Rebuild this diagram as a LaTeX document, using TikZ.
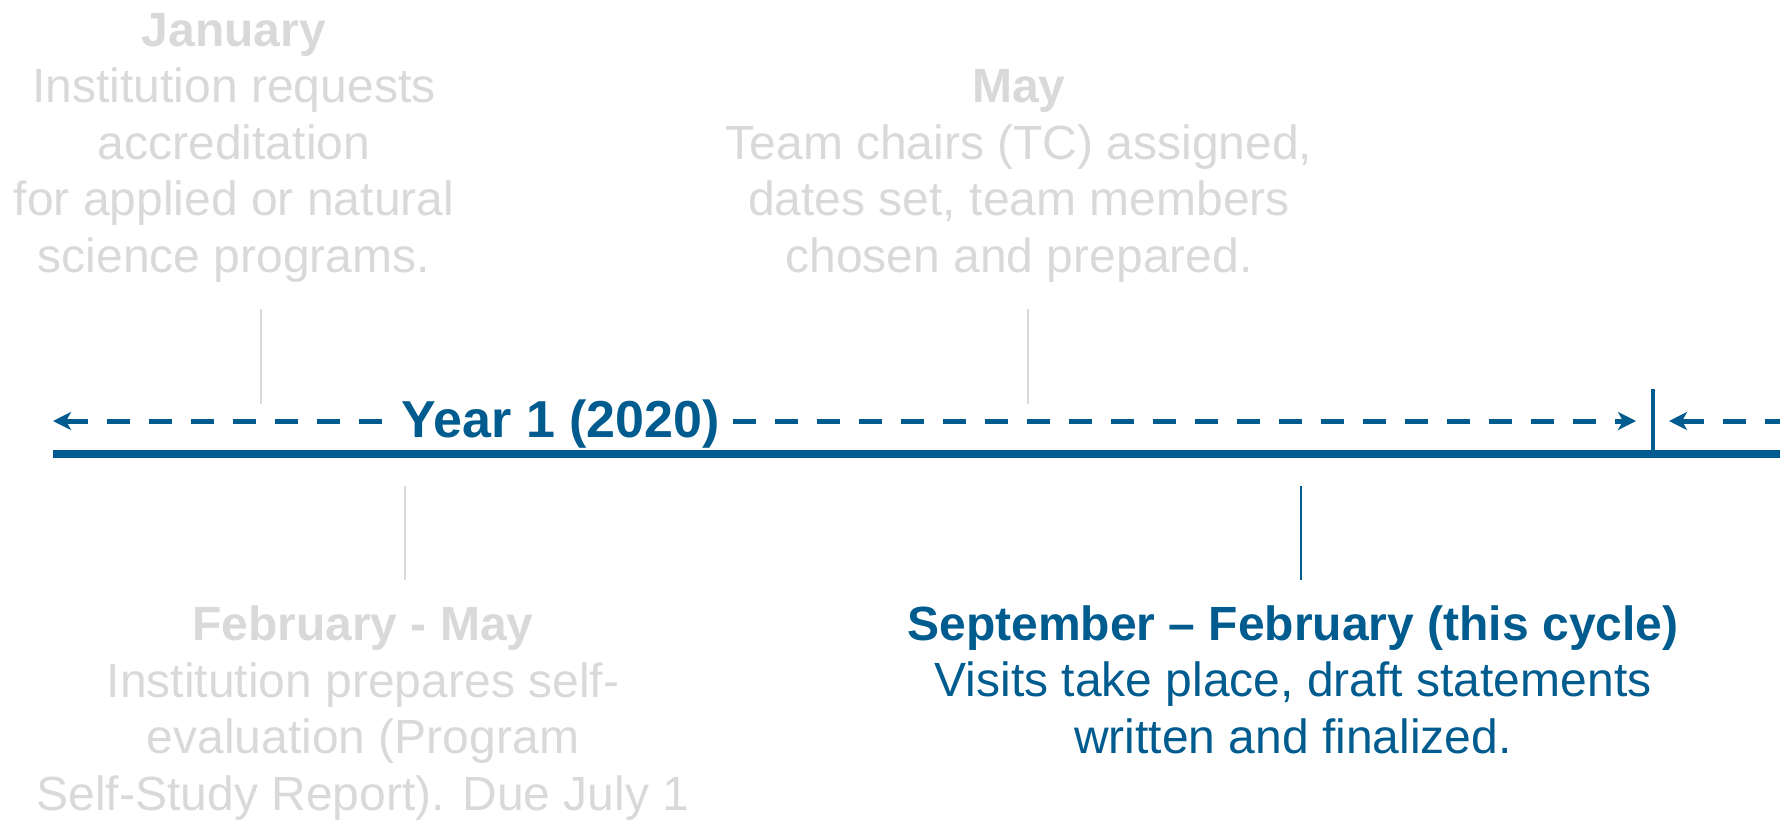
\documentclass[tikz,border=0pt]{standalone}
\usepackage{fontspec}
\setmainfont{Liberation Sans}
\usetikzlibrary{arrows.meta}
\definecolor{tlblue}{HTML}{005B8F}
\definecolor{tlgray}{HTML}{D9D9D9}
\begin{document}
\begin{tikzpicture}[x=1pt,y=-1pt,
  timeline/.style={draw=tlblue, line width=8pt},
  dashright/.style={draw=tlblue, line width=5pt, dash pattern=on 23pt off 19pt, -{Stealth[length=18pt,width=18pt,inset=5pt]}},
  dashleft/.style={draw=tlblue, line width=5pt, dash pattern=on 23pt off 19pt, {Stealth[length=18pt,width=18pt,inset=5pt]}-},
  tickgray/.style={draw=tlgray, line width=2pt},
  tickblue/.style={draw=tlblue, line width=2pt},
  bar/.style={draw=tlblue, line width=4.5pt},
  evtext/.style={align=center, inner sep=0pt, anchor=base, font=\fontsize{48}{56.5}\selectfont},
  yeartext/.style={inner sep=0pt, anchor=base, text=tlblue, font=\fontsize{52}{60}\selectfont\bfseries}
]
\useasboundingbox (0,0) rectangle (1780,820);
\clip (0,0) rectangle (1780,820);

% timeline
\coordinate (lineL) at (53,454);
\coordinate (lineR) at (1790,454);
\draw[timeline] (lineL) -- (lineR);

% year label and dashed arrows
\node[yeartext] (year) at (561,437) {Year 1 (2020)};
\coordinate (tipL) at (53,421);
\coordinate (tipR) at (1636,421);
\coordinate (tipR2) at (1669,421);
\coordinate (edge) at (1800,421);
\draw[dashleft] (tipL) -- ([xshift=-18pt]year.west |- tipL);
\draw[dashright] ([xshift=13pt]year.east |- tipL) -- (tipR);
\draw[dashleft] (tipR2) -- (edge);

% year boundary bar
\coordinate (barT) at (1653,389);
\coordinate (barB) at (1653,454);
\draw[bar] (barT) -- (barB);

% events (anchor base = baseline of the last line)
\node[evtext, text=tlgray] (jan) at (234,272) {\textbf{January}\\Institution requests\\accreditation\\for applied or natural\\science programs.};
\node[evtext, text=tlgray] (may) at (1019,272) {\textbf{May}\\Team chairs (TC) assigned,\\dates set, team members\\chosen and prepared.};
\node[evtext, text=tlgray] (feb) at (363,810) {\textbf{February - May}\\Institution prepares self-\\evaluation (Program\\Self-Study Report). Due July 1};
\node[evtext, text=tlblue] (sep) at (1293,753) {\textbf{September – February (this cycle)}\\Visits take place, draft statements\\written and finalized.};

% ticks
\coordinate (janT) at (261,309);
\coordinate (janB) at (261,404);
\draw[tickgray] (janT) -- (janB);
\coordinate (mayT) at (1028,309);
\coordinate (mayB) at (1028,404);
\draw[tickgray] (mayT) -- (mayB);
\coordinate (febT) at (405,486);
\coordinate (febB) at (405,580);
\draw[tickgray] (febT) -- (febB);
\coordinate (sepT) at (1301,486);
\coordinate (sepB) at (1301,580);
\draw[tickblue] (sepT) -- (sepB);
\end{tikzpicture}
\end{document}
